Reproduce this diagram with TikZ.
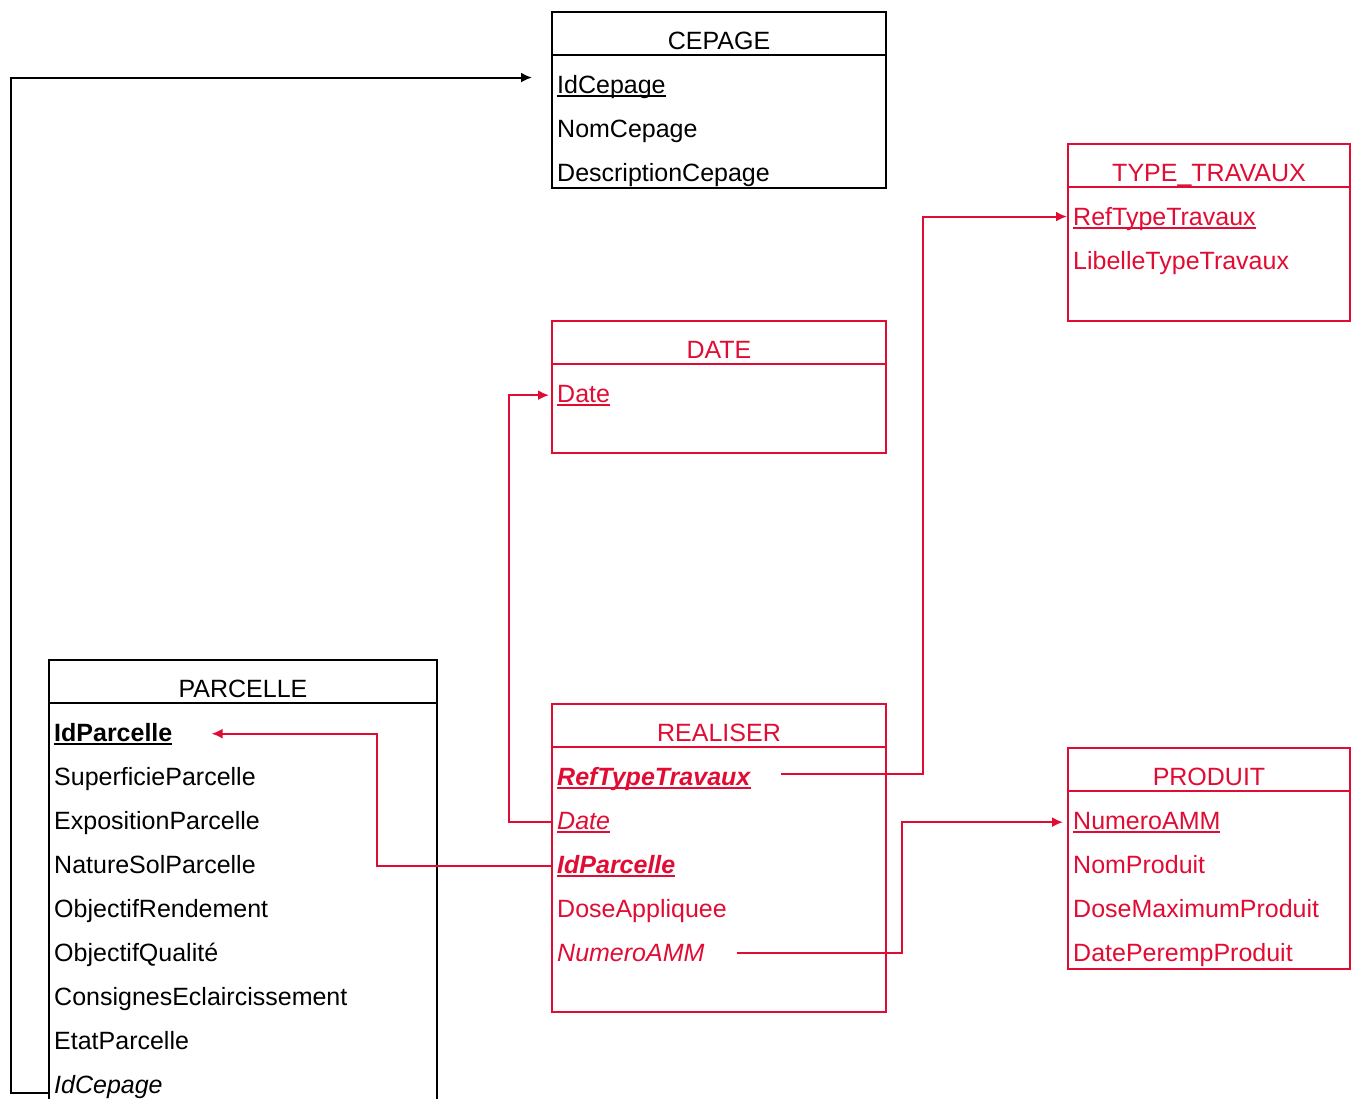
\documentclass[tikz,border=0pt]{standalone}
\usepackage{fontspec}
\setmainfont{Liberation Sans}
\usetikzlibrary{arrows.meta}
\definecolor{mcdred}{RGB}{225,12,52}
\newcommand{\keyul}[1]{\setbox0\hbox{#1}\rlap{\rule[-3.5pt]{\wd0}{1.8pt}}\box0}
\tikzset{
  entity/.style={draw, line width=2pt, inner sep=0pt, anchor=north west},
  entline/.style={line width=2pt},
  title/.style={inner sep=0pt, anchor=base},
  attr/.style={inner sep=0pt, anchor=base west},
  fk/.style={line width=2pt, -{Latex[length=11pt,width=10pt]}},
}

\begin{document}
\begin{tikzpicture}[x=1pt, y=-1pt, font=\fontsize{25}{30}\selectfont]
\useasboundingbox (0,0) rectangle (1354,1098);
\clip (0,0) rectangle (1354,1098);

% CEPAGE
\node[entity, minimum width=334pt, minimum height=176pt] (cepage) at (551,11) {};
\draw[entline] ([yshift=-44pt]cepage.north west) -- ([yshift=-44pt]cepage.north east);
\node[title] (cepage-t) at ([yshift=-38pt]cepage.north) {CEPAGE};
\node[attr] (c-id) at ([xshift=6pt,yshift=-82pt]cepage.north west) {\keyul{IdCepage}};
\node[attr] (c-nom) at ([yshift=-44pt]c-id.base west) {NomCepage};
\node[attr] (c-desc) at ([yshift=-44pt]c-nom.base west) {DescriptionCepage};

% TYPE_TRAVAUX
\begin{scope}[mcdred]
\node[entity, minimum width=282pt, minimum height=177pt] (typetrav) at (1067,143) {};
\draw[entline] ([yshift=-44pt]typetrav.north west) -- ([yshift=-44pt]typetrav.north east);
\node[title] (typetrav-t) at ([yshift=-38pt]typetrav.north) {TYPE\_TRAVAUX};
\node[attr] (t-ref) at ([xshift=6pt,yshift=-82pt]typetrav.north west) {\keyul{RefTypeTravaux}};
\node[attr] (t-lib) at ([yshift=-44pt]t-ref.base west) {LibelleTypeTravaux};
\end{scope}

% DATE
\begin{scope}[mcdred]
\node[entity, minimum width=334pt, minimum height=132pt] (datebox) at (551,320) {};
\draw[entline] ([yshift=-44pt]datebox.north west) -- ([yshift=-44pt]datebox.north east);
\node[title] (datebox-t) at ([yshift=-38pt]datebox.north) {DATE};
\node[attr] (d-date) at ([xshift=6pt,yshift=-82pt]datebox.north west) {\keyul{Date}};
\end{scope}

% PARCELLE
\node[entity, minimum width=388pt, minimum height=450pt] (parcelle) at (48,659) {};
\draw[entline] ([yshift=-44pt]parcelle.north west) -- ([yshift=-44pt]parcelle.north east);
\node[title] (parcelle-t) at ([yshift=-38pt]parcelle.north) {PARCELLE};
\node[attr] (p-id) at ([xshift=6pt,yshift=-82pt]parcelle.north west) {\keyul{\textbf{IdParcelle}}};
\node[attr] (p-sup) at ([yshift=-44pt]p-id.base west) {SuperficieParcelle};
\node[attr] (p-expo) at ([yshift=-44pt]p-sup.base west) {ExpositionParcelle};
\node[attr] (p-sol) at ([yshift=-44pt]p-expo.base west) {NatureSolParcelle};
\node[attr] (p-rend) at ([yshift=-44pt]p-sol.base west) {ObjectifRendement};
\node[attr] (p-qual) at ([yshift=-44pt]p-rend.base west) {ObjectifQualité};
\node[attr] (p-cons) at ([yshift=-44pt]p-qual.base west) {ConsignesEclaircissement};
\node[attr] (p-etat) at ([yshift=-44pt]p-cons.base west) {EtatParcelle};
\node[attr] (p-cep) at ([yshift=-44pt]p-etat.base west) {\textit{IdCepage}};

% REALISER
\begin{scope}[mcdred]
\node[entity, minimum width=334pt, minimum height=308pt] (realiser) at (551,703) {};
\draw[entline] ([yshift=-44pt]realiser.north west) -- ([yshift=-44pt]realiser.north east);
\node[title] (realiser-t) at ([yshift=-38pt]realiser.north) {REALISER};
\node[attr] (r-ref) at ([xshift=6pt,yshift=-82pt]realiser.north west) {\keyul{\textbf{\textit{RefTypeTravaux}}}};
\node[attr] (r-date) at ([yshift=-44pt]r-ref.base west) {\keyul{\textit{Date}}};
\node[attr] (r-idp) at ([yshift=-44pt]r-date.base west) {\keyul{\textbf{\textit{IdParcelle}}}};
\node[attr] (r-dose) at ([yshift=-44pt]r-idp.base west) {DoseAppliquee};
\node[attr] (r-amm) at ([yshift=-44pt]r-dose.base west) {\textit{NumeroAMM}};
\end{scope}

% PRODUIT
\begin{scope}[mcdred]
\node[entity, minimum width=282pt, minimum height=221pt] (produit) at (1067,747) {};
\draw[entline] ([yshift=-44pt]produit.north west) -- ([yshift=-44pt]produit.north east);
\node[title] (produit-t) at ([yshift=-38pt]produit.north) {PRODUIT};
\node[attr] (pr-amm) at ([xshift=6pt,yshift=-82pt]produit.north west) {\keyul{NumeroAMM}};
\node[attr] (pr-nom) at ([yshift=-44pt]pr-amm.base west) {NomProduit};
\node[attr] (pr-dose) at ([yshift=-44pt]pr-nom.base west) {DoseMaximumProduit};
\node[attr] (pr-date) at ([yshift=-44pt]pr-dose.base west) {DatePerempProduit};
\end{scope}

% liens
\draw[fk] (parcelle.west |- p-cep.base) -- ++(-37,0) |- ([xshift=-25pt,yshift=9pt]c-id.west);
\draw[fk, mcdred] ([xshift=30pt,yshift=5pt]r-ref.east) -- ++(142,0) |- ([xshift=-6pt,yshift=2pt]t-ref.west);
\draw[fk, mcdred] (realiser.west |- r-date) -- ++(-42,0) |- ([xshift=-8pt]d-date.west);
\draw[fk, mcdred] (realiser.west |- r-idp) -- ++(-174,0) |- ([xshift=39pt]p-id.east);
\draw[fk, mcdred] ([xshift=32pt]r-amm.east) -- ++(165,0) |- ([xshift=-10pt]pr-amm.west);

\end{tikzpicture}
\end{document}
